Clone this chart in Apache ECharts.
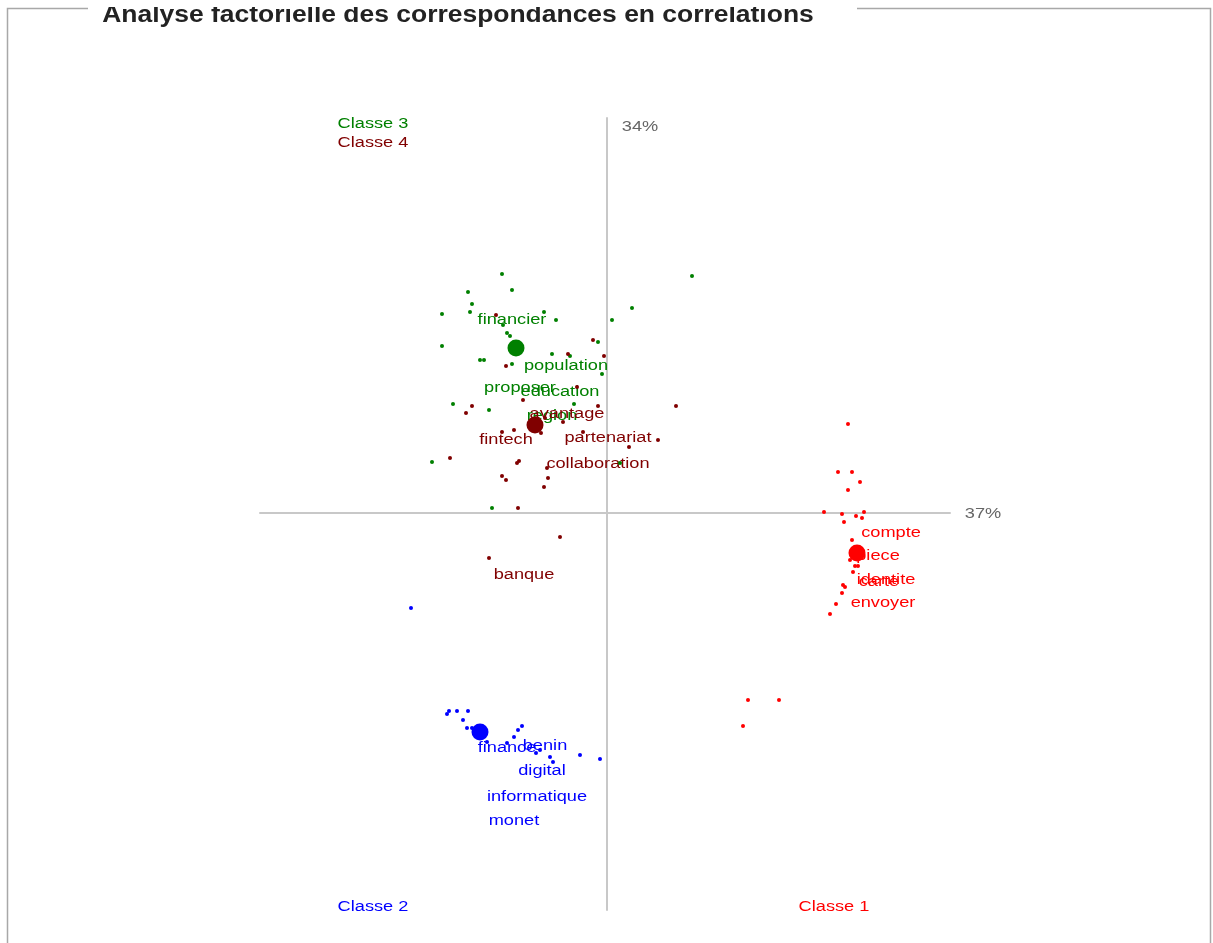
<!DOCTYPE html>
<html>
<head>
<meta charset="utf-8">
<script src="https://cdn.jsdelivr.net/npm/echarts@6/dist/echarts.min.js"></script>
<style>
  html, body { margin: 0; padding: 0; background: #fff; }
  #chart { width: 1213px; height: 943px; }
</style>
</head>
<body>
<div id="chart"></div>
<script>
// Factor plane: axis 1 (37%) horizontal, axis 2 (34%) vertical.
const axisInertia = ['37%', '34%'];
const classNames = ['Classe 1', 'Classe 2', 'Classe 3', 'Classe 4'];
const classColors = ['#ff0000', '#0000ff', '#008000', '#800000'];

// Word coordinates per class (factor 1, factor 2)
const class1Points = [
  [2.41, 0.89], [2.31, 0.41], [2.45, 0.41], [2.53, 0.31], [2.41, 0.23],
  [2.17, 0.01], [2.35, -0.01], [2.49, -0.03], [2.55, -0.05], [2.57, 0.01],
  [2.37, -0.09], [2.45, -0.27], [2.43, -0.47], [2.48, -0.53], [2.51, -0.53],
  [2.46, -0.59], [2.36, -0.72], [2.38, -0.74], [2.35, -0.80], [2.29, -0.91],
  [2.23, -1.01], [1.41, -1.87], [1.72, -1.87], [1.36, -2.13]
];
const class2Points = [
  [-1.60, -2.01], [-1.58, -1.98], [-1.50, -1.98], [-1.39, -1.98], [-1.44, -2.07],
  [-1.40, -2.15], [-1.35, -2.15], [-1.20, -2.29], [-0.85, -2.13], [-0.89, -2.17],
  [-0.93, -2.24], [-1.00, -2.30], [-0.71, -2.40], [-0.67, -2.37], [-0.54, -2.49],
  [-0.57, -2.44], [-0.27, -2.42], [-0.07, -2.46], [-1.96, -0.95]
];
const class3Points = [
  [-1.05, 2.39], [-1.39, 2.21], [-0.95, 2.23], [-1.35, 2.09], [-1.65, 1.99],
  [-1.37, 2.01], [-0.63, 2.01], [-0.51, 1.93], [0.05, 1.93], [0.25, 2.05],
  [0.85, 2.37], [-1.65, 1.67], [-1.00, 1.80], [-0.97, 1.77], [-1.04, 1.88],
  [-1.27, 1.53], [-1.23, 1.53], [-0.95, 1.49], [-0.55, 1.59], [-0.37, 1.57],
  [-0.09, 1.71], [-0.05, 1.39], [-1.54, 1.09], [-1.18, 1.03], [-0.33, 1.09],
  [-1.75, 0.51], [-1.15, 0.05], [-0.74, 0.91], [0.13, 0.50]
];
const class4Points = [
  [-1.11, 1.98], [-0.85, 1.65], [-0.14, 1.73], [-0.39, 1.59], [-0.03, 1.57],
  [-1.01, 1.47], [-0.30, 1.26], [-1.35, 1.07], [-1.41, 1.00], [-0.09, 1.07],
  [0.69, 1.07], [-0.93, 0.83], [-1.05, 0.81], [-1.57, 0.55], [-0.90, 0.50],
  [-0.88, 0.52], [-0.60, 0.45], [-0.59, 0.35], [-1.05, 0.37], [-1.01, 0.33],
  [-0.63, 0.26], [-0.89, 0.05], [0.51, 0.73], [0.22, 0.66], [-0.24, 0.81],
  [-0.44, 0.91], [-0.47, -0.24], [-1.18, -0.45], [-0.84, 1.13], [-0.62, 0.95],
  [-0.66, 0.80]
];

// Class centres
const centroids = [[2.50, -0.40], [-1.27, -2.19], [-0.91, 1.65], [-0.72, 0.88]];

// Labelled words (label centre coordinates)
const class1Words = ['compte', 'piece', 'identite', 'carte', 'envoyer'];
const class1WordPos = [[2.84, -0.20], [2.71, -0.43], [2.79, -0.67], [2.72, -0.69], [2.76, -0.90]];
const class2Words = ['finance', 'benin', 'digital', 'informatique', 'monet'];
const class2WordPos = [[-1.00, -2.35], [-0.62, -2.33], [-0.65, -2.58], [-0.70, -2.84], [-0.93, -3.08]];
const class3Words = ['financier', 'population', 'proposer', 'education', 'region'];
const class3WordPos = [[-0.95, 1.93], [-0.41, 1.47], [-0.87, 1.25], [-0.47, 1.21], [-0.55, 0.97]];
const class4Words = ['avantage', 'fintech', 'partenariat', 'collaboration', 'banque'];
const class4WordPos = [[-0.40, 0.99], [-1.01, 0.73], [0.01, 0.75], [-0.09, 0.49], [-0.83, -0.62]];

const FONT = '"Liberation Sans", Arial, sans-serif';
const TEXT_STRETCH = 1.3;

const classPoints = [class1Points, class2Points, class3Points, class4Points];
const classWords = [class1Words, class2Words, class3Words, class4Words];
const classWordPos = [class1WordPos, class2WordPos, class3WordPos, class4WordPos];

const series = [];

// word labels (drawn beneath the points)
classWords.forEach(function (words, c) {
  series.push({
    type: 'custom',
    name: classNames[c] + ' mots',
    coordinateSystem: 'cartesian2d',
    silent: true,
    clip: false,
    z: 1,
    data: classWordPos[c],
    renderItem: function (params, api) {
      const p = api.coord([api.value(0), api.value(1)]);
      return {
        type: 'text',
        x: p[0],
        y: p[1],
        scaleX: TEXT_STRETCH,
        style: {
          text: words[params.dataIndex],
          fill: classColors[c],
          font: '14px ' + FONT,
          align: 'center',
          verticalAlign: 'middle'
        }
      };
    }
  });
});

// word points
classPoints.forEach(function (pts, c) {
  series.push({
    type: 'scatter',
    name: classNames[c],
    data: pts,
    symbol: 'circle',
    symbolSize: 4,
    itemStyle: { color: classColors[c], opacity: 1 },
    silent: true,
    z: 2
  });
});

// class centres
series.push({
  type: 'scatter',
  name: 'centres',
  data: centroids.map(function (p, c) {
    return { value: p, itemStyle: { color: classColors[c], opacity: 1 } };
  }),
  symbol: 'circle',
  symbolSize: 17,
  silent: true,
  z: 3
});

function cornerText(text, x, y, color) {
  return {
    type: 'text', x: x, y: y, scaleX: TEXT_STRETCH, z: 10,
    style: { text: text, fill: color, font: '14px ' + FONT, align: 'center', verticalAlign: 'middle' }
  };
}

const chart = echarts.init(document.getElementById('chart'), null, { renderer: 'canvas' });
chart.setOption({
  backgroundColor: '#ffffff',
  animation: false,
  grid: { left: 260, right: 263, top: 118, bottom: 33 },
  xAxis: {
    type: 'value', min: -3.47, max: 3.43,
    axisLine: { onZero: true, lineStyle: { color: '#c8c8c8', width: 2 } },
    axisTick: { show: false }, axisLabel: { show: false }, splitLine: { show: false }
  },
  yAxis: {
    type: 'value', min: -3.97, max: 3.95,
    axisLine: { onZero: true, lineStyle: { color: '#c8c8c8', width: 2 } },
    axisTick: { show: false }, axisLabel: { show: false }, splitLine: { show: false }
  },
  graphic: [
    // fieldset-style frame around the plot
    { type: 'polyline', shape: { points: [[88, 8.5], [7.5, 8.5], [7.5, 960]] },
      style: { stroke: '#a8a8a8', lineWidth: 1.5, fill: null }, silent: true },
    { type: 'polyline', shape: { points: [[857, 8.5], [1210.5, 8.5], [1210.5, 960]] },
      style: { stroke: '#a8a8a8', lineWidth: 1.5, fill: null }, silent: true },
    { type: 'text', x: 458, y: 16, scaleX: 1.15, z: 10,
      style: { text: 'Analyse factorielle des correspondances en correlations', fill: '#222222',
        font: 'bold 23px ' + FONT, align: 'center', verticalAlign: 'middle' } },
    // the legend strip is cut along its top edge
    { type: 'rect', shape: { x: 90, y: 0, width: 765, height: 7 }, z: 11,
      style: { fill: '#ffffff' }, silent: true },
    cornerText(classNames[2], 373, 124, classColors[2]),
    cornerText(classNames[3], 373, 143, classColors[3]),
    cornerText(classNames[1], 373, 907, classColors[1]),
    cornerText(classNames[0], 834, 907, classColors[0]),
    cornerText(axisInertia[1], 640, 127, '#666666'),
    cornerText(axisInertia[0], 983, 514, '#666666')
  ],
  series: series
});
</script>
</body>
</html>
